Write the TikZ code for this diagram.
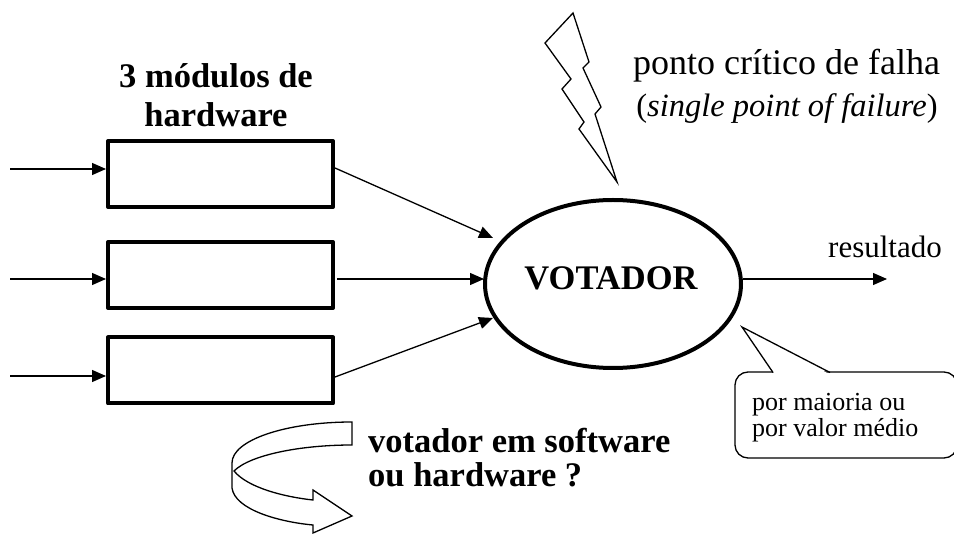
\documentclass[tikz,border=0pt]{standalone}
\usepackage{fontspec}
\setmainfont{Liberation Serif}
\usetikzlibrary{arrows.meta,shapes.geometric}
\tikzset{
  modbox/.style={draw,line width=4pt,line join=round,minimum width=225pt,minimum height=66pt,inner sep=0pt},
  voter/.style={draw,ellipse,line width=4pt,minimum width=256pt,minimum height=168pt,inner sep=0pt},
  conn/.style={line width=1.3pt,-{Triangle[length=14pt,width=12pt]}},
  thinline/.style={line width=1.3pt,line join=miter},
  boldlbl/.style={inner sep=0pt,anchor=base,font=\fontsize{34.5}{39}\selectfont\bfseries},
  plainlbl/.style={inner sep=0pt,anchor=base west,font=\fontsize{31}{36}\selectfont},
  calltext/.style={inner sep=0pt,anchor=base west,font=\fontsize{26}{26}\selectfont},
}
\begin{document}
\begin{tikzpicture}[x=1pt,y=-1pt]
\useasboundingbox (0,0) rectangle (954,534);
% modules
\node[modbox] (b1) at (220.5,174) {};
\node[modbox] (b2) at (220.5,275) {};
\node[modbox] (b3) at (220.5,370.5) {};
% voter
\node[voter] (v) at (613,284) {};
\node[boldlbl] (vt) at (611,290) {VOTADOR};
% input arrows
\coordinate (i1) at (10,169);
\coordinate (i2) at (10,279);
\coordinate (i3) at (10,376);
\draw[conn] (i1) -- (i1 -| b1.west);
\draw[conn] (i2) -- (i2 -| b2.west);
\draw[conn] (i3) -- (i3 -| b3.west);
% outputs to voter
\coordinate (o1) at (335,168);
\coordinate (o2) at (337,279);
\coordinate (o3) at (335,377);
\coordinate (e1) at (493,238);
\coordinate (e2) at (484,279);
\coordinate (e3) at (493,318);
\draw[conn] (o1) -- (e1);
\draw[conn] (o2) -- (e2);
\draw[conn] (o3) -- (e3);
% result
\coordinate (r1) at (887,279);
\draw[conn] (v.east |- r1) -- (r1);
\node[plainlbl] (res) at (828,258) {resultado};
% module label
\node[boldlbl] (m1) at (216,88) {3 módulos de};
\node[boldlbl] (m2) at (216,127) {hardware};
% critical point label
\node[inner sep=0pt,anchor=base,font=\fontsize{36}{42}\selectfont] (p1) at (786.5,75) {ponto crítico de falha};
\node[inner sep=0pt,anchor=base,font=\fontsize{32.5}{42}\selectfont] (p2) at (787,117) {(\textit{single point of failure})};
% lightning bolt
\draw[thinline] (573,13) -- (545,43) -- (571,79) -- (562,89) -- (584,122) -- (579,129) -- (617,182)
  -- (595,114) -- (601,107) -- (583,68) -- (589,62) -- cycle;
% callout
\draw[thinline,rounded corners=13pt] (735,372) rectangle (957,458);
\fill[white] (774.5,374) -- (742,327) -- (829,374) -- cycle;
\draw[thinline] (773,372.5) -- (742,327) -- (830,372.5);
\node[calltext] (c1) at (752,411) {por maioria ou};
\node[calltext] (c2) at (752,437) {por valor médio};
% curved arrow
\draw[thinline,line join=miter] (352,422) .. controls (286,422) and (232,440) .. (232,463) -- (232,488)
  .. controls (235,510) and (280,522) .. (313,525) -- (313,533) -- (352,516) -- (313,490) -- (313,500)
  .. controls (285,497) and (248,488) .. (234,471) .. controls (250,455) and (300,445) .. (352,445) -- cycle;
% question label
\node[boldlbl,anchor=base west] (q1) at (368,453) {votador em software};
\node[boldlbl,anchor=base west] (q2) at (368,487) {ou hardware ?};
\end{tikzpicture}
\end{document}
